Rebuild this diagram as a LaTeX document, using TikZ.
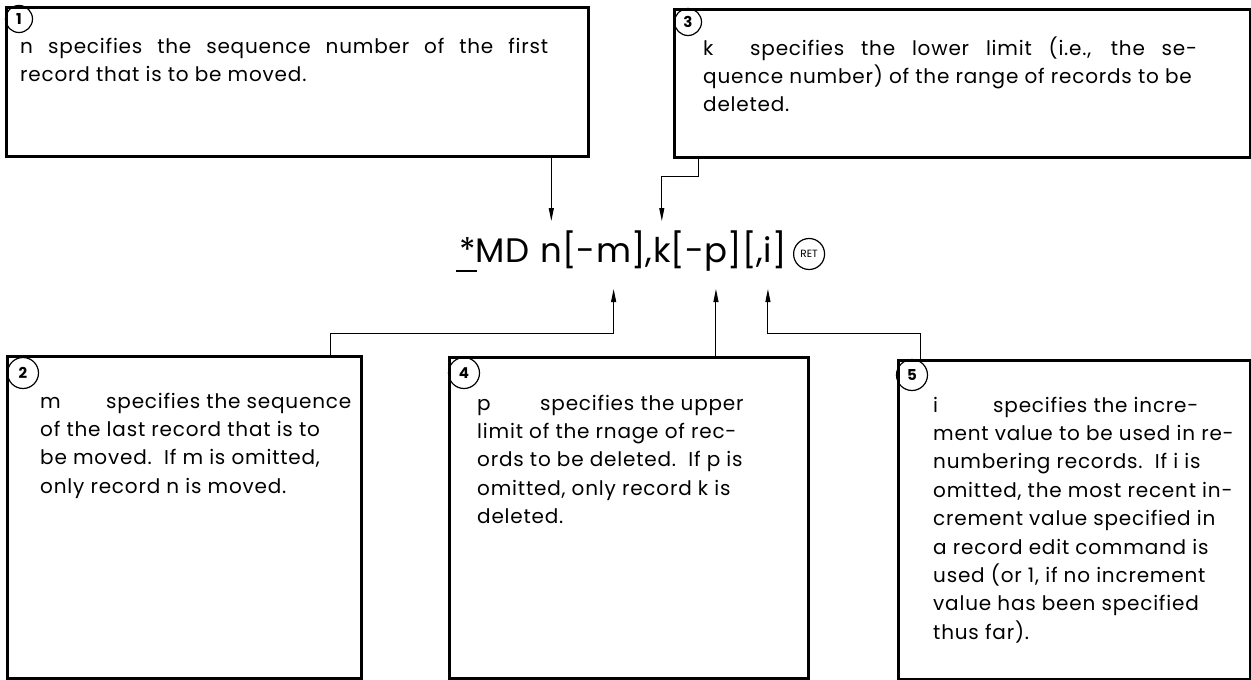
\documentclass[tikz,border=0pt]{standalone}
\usepackage{fontspec}
\setmainfont{Poppins}
\newfontfamily\descfamily[LetterSpace=4]{Poppins}
\usetikzlibrary{positioning,arrows.meta}

\newcommand\descfont{\descfamily\fontsize{20}{28.4}\selectfont}
\newcommand\cmdfont{\fontsize{34}{40}\selectfont}

\tikzset{
  descbox/.style={draw, line width=2.5pt, inner sep=0pt, anchor=north west},
  desctext/.style={anchor=base west, inner sep=0pt, font=\descfont},
  numcirc/.style={draw, circle, line width=1.2pt, minimum size=#1, inner sep=0pt,
    font=\fontsize{15}{15}\selectfont\bfseries},
  numcirc/.default=28pt,
  cmdpart/.style={anchor=base west, inner sep=0pt, font=\cmdfont},
  retkey/.style={draw, circle, line width=1.2pt, minimum size=31pt, inner sep=0pt,
    font=\fontsize{10.5}{10.5}\selectfont},
  pointer/.style={line width=1pt, -{Triangle[length=13pt, width=5pt]}},
}

\begin{document}
\begin{tikzpicture}[x=1pt, y=-1pt]
  \useasboundingbox (0,0) rectangle (1251,680);

  % boxes
  \node[descbox, minimum width=582pt, minimum height=149pt] (box1) at (5,6) {};
  \node[descbox, minimum width=576pt, minimum height=148pt] (box3) at (673,8) {};
  \node[descbox, minimum width=354pt, minimum height=322pt] (box2) at (6,355) {};
  \node[descbox, minimum width=359pt, minimum height=321pt] (box4) at (448,356) {};
  \node[descbox, minimum width=352pt, minimum height=319pt] (box5) at (897,359) {};

  % numbers
  \node[numcirc=27pt] (num1) at ([xshift=14pt, yshift=-13pt]box1.north west) {1};
  \node[numcirc=27pt] (num3) at ([xshift=15pt, yshift=-14pt]box3.north west) {3};
  \node[numcirc=31pt] (num2) at ([xshift=17pt, yshift=-18pt]box2.north west) {2};
  \node[numcirc=31pt] (num4) at ([xshift=16pt, yshift=-17pt]box4.north west) {4};
  \node[numcirc=31pt] (num5) at ([xshift=15pt, yshift=-16pt]box5.north west) {5};

  % texts
  \node[desctext] (text1) at ([xshift=15pt, yshift=-47pt]box1.north west)
    {\begin{tabular}[t]{@{}l@{}}\makebox[528pt][s]{\makebox[28pt][l]{n}specifies the sequence number of the first}\\
     record that is to be moved.\end{tabular}};
  \node[desctext] (text3) at ([xshift=30pt, yshift=-47pt]box3.north west)
    {\begin{tabular}[t]{@{}l@{}}\makebox[494pt][s]{\makebox[47pt][l]{k}specifies the lower limit (i.e., the se-}\\
     quence number) of the range of records to be\\
     deleted.\end{tabular}};
  \node[desctext] (text2) at ([xshift=34pt, yshift=-53pt]box2.north west)
    {\begin{tabular}[t]{@{}l@{}}\makebox[66pt][l]{m}specifies the sequence\\
     of the last record that is to\\
     be moved.\ \ If m is omitted,\\
     only record n is moved.\end{tabular}};
  \node[desctext] (text4) at ([xshift=29pt, yshift=-54pt]box4.north west)
    {\begin{tabular}[t]{@{}l@{}}\makebox[63pt][l]{p}specifies the upper\\
     limit of the rnage of rec-\\
     ords to be deleted.\ \ If p is\\
     omitted, only record k is\\
     deleted.\end{tabular}};
  \node[desctext] (text5) at ([xshift=36pt, yshift=-53pt]box5.north west)
    {\begin{tabular}[t]{@{}l@{}}\makebox[60pt][l]{i}specifies the incre-\\
     ment value to be used in re-\\
     numbering records.\ \ If i is\\
     omitted, the most recent in-\\
     crement value specified in\\
     a record edit command is\\
     used (or 1, if no increment\\
     value has been specified\\
     thus far).\end{tabular}};

  % command line
  \node[cmdpart] (cmd) at (456,262) {\rlap{\rule[-10pt]{21pt}{2.5pt}}\hspace{3pt}*MD};
  \node[cmdpart] (cmd-n) at ([xshift=11pt]cmd.base east) {n};
  \node[cmdpart] (cmd-br1) at (cmd-n.base east) {[-};
  \node[cmdpart] (cmd-m) at (cmd-br1.base east) {m};
  \node[cmdpart] (cmd-br2) at (cmd-m.base east) {],};
  \node[cmdpart] (cmd-k) at (cmd-br2.base east) {k};
  \node[cmdpart] (cmd-br3) at (cmd-k.base east) {[-};
  \node[cmdpart] (cmd-p) at (cmd-br3.base east) {p};
  \node[cmdpart] (cmd-br4) at (cmd-p.base east) {][,};
  \node[cmdpart] (cmd-i) at (cmd-br4.base east) {i};
  \node[cmdpart] (cmd-br5) at (cmd-i.base east) {]};
  \node[retkey] (ret) at ([xshift=22pt, yshift=8pt]cmd-br5.base east) {RET};

  \coordinate (top-row) at (0,221);
  \coordinate (top-bend) at (0,176);
  \coordinate (low-row) at (0,289);
  \coordinate (low-bend) at (0,333);

  % pointers
  \draw[pointer] (cmd-n |- box1.south) -- (cmd-n |- top-row);
  \draw[pointer] ([xshift=25pt]box3.south west) |- (cmd-k |- top-bend) -- (cmd-k |- top-row);
  \draw[pointer] ([xshift=324pt]box2.north west) |- (cmd-m |- low-bend) -- (cmd-m |- low-row);
  \draw[pointer] (cmd-p |- box4.north) -- (cmd-p |- low-row);
  \draw[pointer] ([xshift=23pt]box5.north west) |- (cmd-i |- low-bend) -- (cmd-i |- low-row);
\end{tikzpicture}
\end{document}
